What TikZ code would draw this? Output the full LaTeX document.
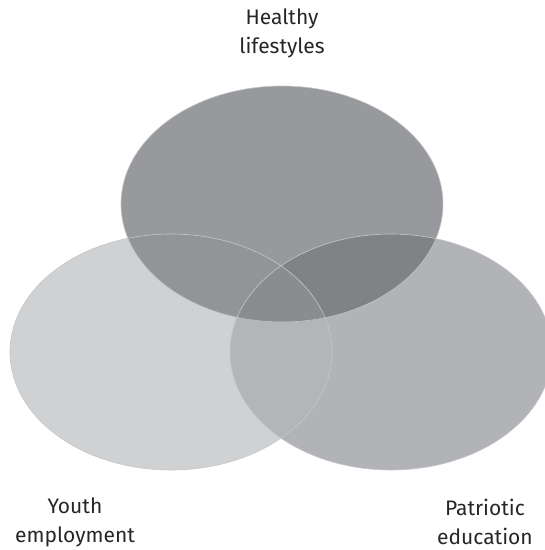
\documentclass[tikz,border=0pt]{standalone}
\usepackage{fontspec}
\setmainfont{Fira Sans}

\definecolor{leftgray}{HTML}{D0D1D3}
\definecolor{rightgray}{HTML}{B2B3B6}
\definecolor{lrgray}{HTML}{B4B5B8}
\definecolor{topgray}{HTML}{98999C}
\definecolor{tlgray}{HTML}{939497}
\definecolor{trgray}{HTML}{818286}
\definecolor{allgray}{HTML}{8B8C8F}
\definecolor{rimgray}{HTML}{C6C7C9}

\begin{document}
\begin{tikzpicture}[x=1pt, y=-1pt,
	rim/.style={draw=rimgray, line width=0.6pt},
	label text/.style={font=\fontsize{21}{29}\selectfont, text=black!85, align=center}]
	\useasboundingbox (0,0) rectangle (545,550);
	\clip (0,0) rectangle (545,550);

	% Circles
	\def\lefte{(171,352) ellipse [x radius=161, y radius=118]}
	\def\righte{(391,352) ellipse [x radius=161, y radius=118]}
	\def\tope{(282,204) ellipse [x radius=161, y radius=118]}

	\fill[leftgray] \lefte;
	\fill[rightgray] \righte;
	\begin{scope}
		\clip \lefte;
		\fill[lrgray] \righte;
	\end{scope}
	\fill[topgray] \tope;
	\begin{scope}
		\clip \tope;
		\fill[tlgray] \lefte;
		\fill[trgray] \righte;
		\clip \lefte;
		\fill[allgray] \righte;
	\end{scope}

	% Rims
	\draw[rim] \lefte;
	\draw[rim] \righte;
	\draw[rim] \tope;

	% Labels
	\node[label text] (health) at (282,33) {Healthy\\lifestyles};
	\node[label text] (youth) at (75,522) {Youth\\employment};
	\node[label text] (patriot) at (485,522) {Patriotic\\education};
\end{tikzpicture}
\end{document}
